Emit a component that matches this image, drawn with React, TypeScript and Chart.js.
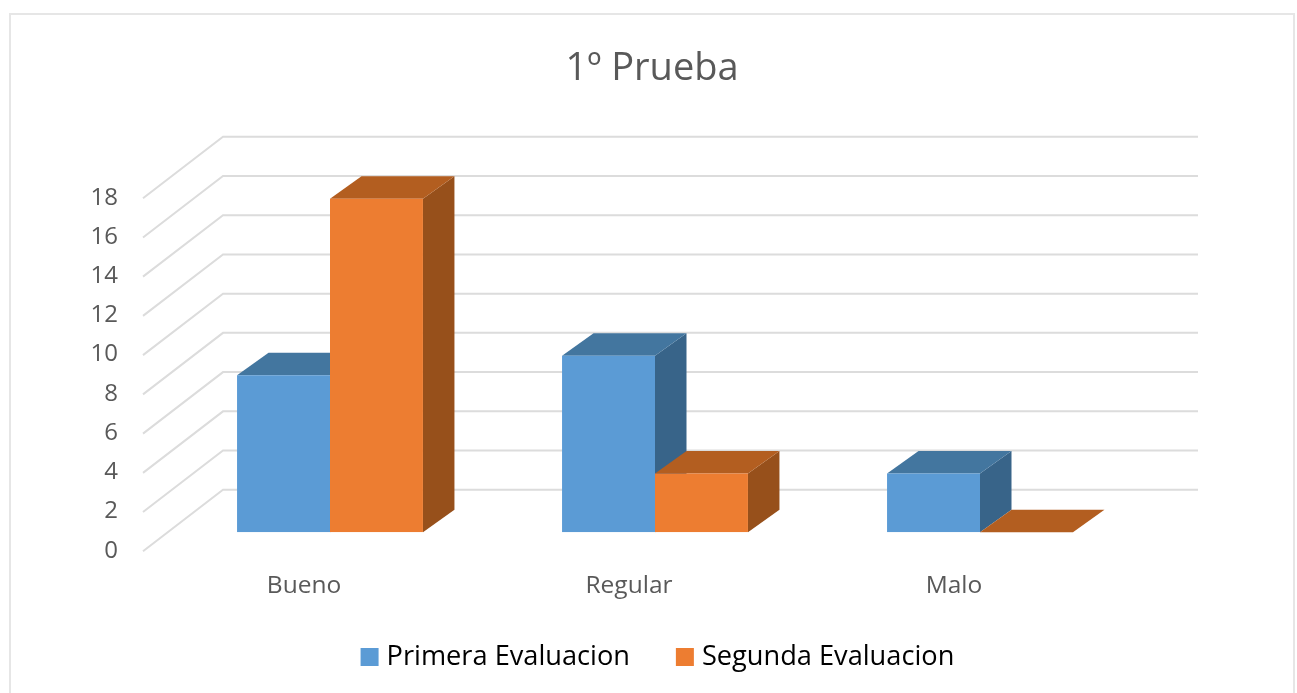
import React, { useEffect, useRef } from "react";
import { Chart, registerables } from "chart.js";

Chart.register(...registerables);

const categories = ["Bueno", "Regular", "Malo"];
const primeraEvaluacion = [8, 9, 3];
const segundaEvaluacion = [17, 3, 0];
const seriesNames = ["Primera Evaluacion", "Segunda Evaluacion"];
const frontColors = ["#5B9BD5", "#ED7D31"];
const topColors = ["#43769F", "#B35E20"];
const sideColors = ["#386489", "#97501B"];
const fontFamily = '"Open Sans", "Noto Sans", sans-serif';

const depthPlugin = {
  id: "depth3d",
  afterLayout(chart: any) {
    // centre title and legend where the reference has them
    const t = chart.titleBlock;
    if (t) { t.left = 0; t.right = 1304; }
    const l = chart.legend;
    if (l) {
      l.left = 0; l.right = 1320.5;
      const h = l.bottom - l.top;
      l.top = 592; l.bottom = 592 + h;
    }
  },
  beforeDatasetsDraw(chart: any) {
    const { ctx } = chart;
    const y = chart.scales.y;
    ctx.save();
    ctx.strokeStyle = "#dcdcdc";
    ctx.lineWidth = 2;
    for (const tick of y.ticks) {
      const p = y.getPixelForValue(tick.value);
      ctx.beginPath();
      ctx.moveTo(143, p + 19);
      ctx.lineTo(223, p - 42.5);
      ctx.lineTo(1198, p - 42.5);
      ctx.stroke();
    }
    const dx = 31.5;
    const dy = -22.5;
    chart.data.datasets.forEach((_: any, di: number) => {
      chart.getDatasetMeta(di).data.forEach((bar: any) => {
        const { x, y: top, base, width } = bar.getProps(["x", "y", "base", "width"]);
        const l = x - width / 2;
        const r = x + width / 2;
        ctx.fillStyle = sideColors[di];
        ctx.beginPath();
        ctx.moveTo(r, top);
        ctx.lineTo(r + dx, top + dy);
        ctx.lineTo(r + dx, base + dy);
        ctx.lineTo(r, base);
        ctx.closePath();
        ctx.fill();
        ctx.fillStyle = topColors[di];
        ctx.beginPath();
        ctx.moveTo(l, top);
        ctx.lineTo(l + dx, top + dy);
        ctx.lineTo(r + dx, top + dy);
        ctx.lineTo(r, top);
        ctx.closePath();
        ctx.fill();
      });
    });
    ctx.restore();
  },
};

export default function App() {
  const ref = useRef<HTMLCanvasElement>(null);
  useEffect(() => {
    const chart = new Chart(ref.current as HTMLCanvasElement, {
      type: "bar",
      data: {
        labels: categories,
        datasets: [
          { label: seriesNames[0], data: primeraEvaluacion, backgroundColor: frontColors[0], categoryPercentage: 0.572, barPercentage: 1 },
          { label: seriesNames[1], data: segundaEvaluacion, backgroundColor: frontColors[1], categoryPercentage: 0.572, barPercentage: 1 },
        ],
      },
      options: {
        responsive: false,
        animation: false,
        layout: { padding: { left: 0, right: 154.5, top: 0, bottom: 0 } },
        scales: {
          x: {
            grid: { display: false, drawTicks: false },
            border: { display: false },
            ticks: { color: "#595959", font: { family: fontFamily, size: 24.5 }, padding: 39, labelOffset: -26, maxRotation: 0, autoSkip: false },
            afterFit: (s: any) => { s.height = 72; },
          },
          y: {
            min: 0,
            max: 18,
            grid: { display: false, drawTicks: false },
            border: { display: false },
            ticks: { stepSize: 2, color: "#595959", font: { family: fontFamily, size: 24 }, padding: 49.5, labelOffset: 18.5 },
            afterFit: (s: any) => { s.width = 167.5; },
          },
        },
        plugins: {
          title: {
            display: true,
            text: "1º Prueba",
            color: "#595959",
            font: { family: fontFamily, size: 38, weight: "normal", lineHeight: 1.2 },
            padding: { top: 46, bottom: 87.6 },
          },
          legend: {
            position: "bottom",
            labels: {
              color: "#20232e",
              font: { family: fontFamily, size: 27.2, weight: "500" },
              boxWidth: 6.8,
              boxHeight: 6.8,
              padding: 51.5,
              generateLabels: () =>
                seriesNames.map((text, i) => ({
                  text,
                  fillStyle: frontColors[i],
                  strokeStyle: frontColors[i],
                  lineWidth: 11.2,
                  datasetIndex: i,
                })),
            },
          },
          tooltip: { enabled: false },
        },
      },
      plugins: [depthPlugin],
    } as any);
    return () => chart.destroy();
  }, []);

  return (
    <div style={{ position: "absolute", left: 0, top: 0, width: 1297, height: 693, overflow: "hidden", background: "#fff" }}>
      <div style={{ position: "absolute", left: 9, top: 13, width: 1286, height: 700, border: "2px solid #e6e6e6", boxSizing: "border-box", filter: "blur(0.6px)" }} />
      <canvas ref={ref} width={1297} height={693} style={{ position: "absolute", left: 0, top: 0, filter: "blur(0.6px)" }} />
    </div>
  );
}
